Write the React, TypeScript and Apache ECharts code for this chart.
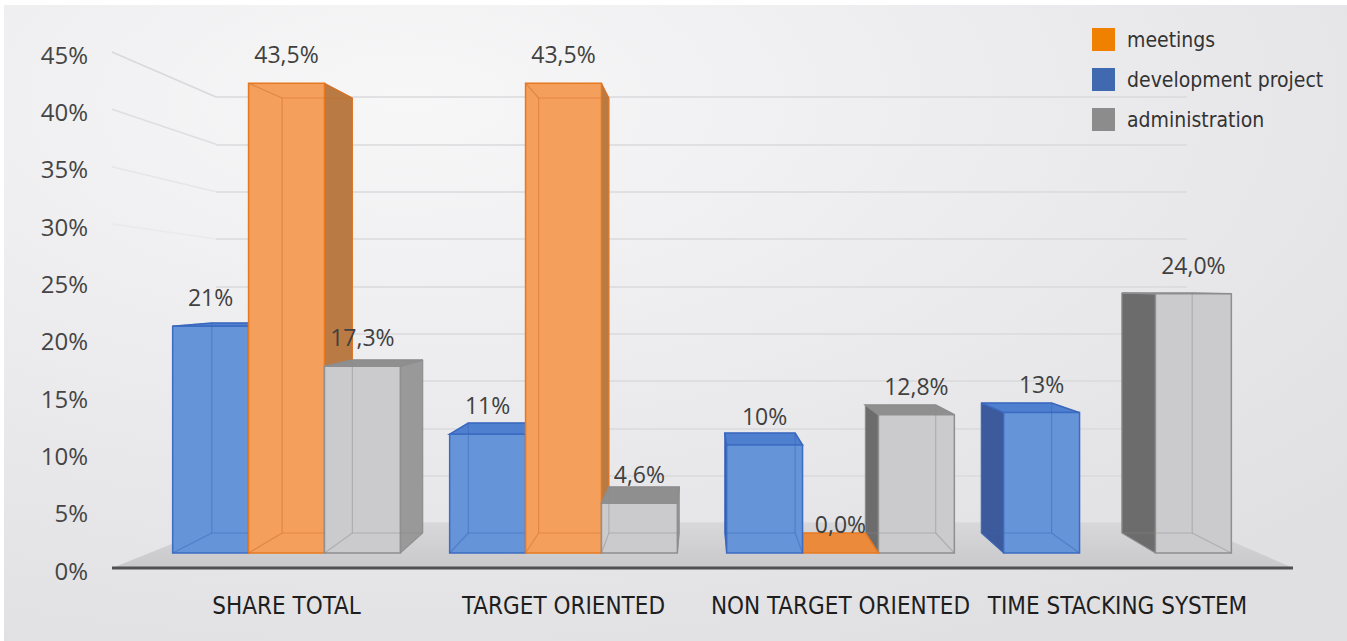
import React, { useEffect, useRef } from "react";
import * as echarts from "echarts";

// ---- data ----
const categories = ["SHARE TOTAL", "TARGET ORIENTED", "NON TARGET ORIENTED", "TIME STACKING SYSTEM"];
const meetings: (number | null)[] = [43.5, 43.5, 0.0, null];
const developmentProject: (number | null)[] = [21, 11, 10, 13];
const administration: (number | null)[] = [17.3, 4.6, 12.8, 24.0];
const legendOrder = ["meetings", "development project", "administration"];
const yMin = 0;
const yMax = 45;
const yStep = 5;

// ---- perspective & style ----
const EYE = 25; // value at eye level (vertical vanishing point)
const DEPTH = 0.926; // back-face scale toward the vanishing point
const BAR_FRACTION = 0.274;
const NARROW = "DejaVu Sans Condensed, Liberation Sans Narrow, sans-serif";

type Look = {
  legend: string;
  front: string;
  border: string;
  sideRight: string;
  sideLeft: string;
  top: string;
  inner: string;
};

const LOOKS: Record<string, Look> = {
  development: {
    legend: "#4169b0",
    front: "#6594d9",
    border: "#3c6cc2",
    sideRight: "#4a6fb5",
    sideLeft: "#3d5b9c",
    top: "#4f7fcf",
    inner: "rgba(60,100,180,0.45)",
  },
  meetings: {
    legend: "#f08000",
    front: "#f4a05c",
    border: "#e8781f",
    sideRight: "#b97a44",
    sideLeft: "#b06c30",
    top: "#ec8a3c",
    inner: "rgba(210,110,40,0.5)",
  },
  administration: {
    legend: "#8c8c8c",
    front: "#cbcbce",
    border: "#8f8f8f",
    sideRight: "#999999",
    sideLeft: "#6c6c6c",
    top: "#8f8f8f",
    inner: "rgba(140,140,145,0.45)",
  },
};

const fmtInt = (v: number) => `${v}%`;
const fmtDec = (v: number) => `${v.toFixed(1).replace(".", ",")}%`;

function toData(values: (number | null)[]) {
  const out: number[][] = [];
  values.forEach((v, i) => {
    if (v !== null && v !== undefined) out.push([i, v]);
  });
  return out;
}

function makeRender(look: Look, pos: number, fmt: (v: number) => string) {
  return (params: any, api: any) => {
    const cat = api.value(0);
    const v = api.value(1);
    const base = api.coord([cat, 0]);
    const topP = api.coord([cat, v]);
    const band = api.size([1, 0])[0];
    const bw = band * BAR_FRACTION;
    const cx = base[0];
    const x1 = cx + pos * bw - bw / 2;
    const x2 = x1 + bw;
    const yb = base[1];
    const yt = topP[1];
    const a = api.coord([0, 0])[0];
    const b = api.coord([categories.length - 1, 0])[0];
    const vpx = (a + b) / 2;
    const vpy = api.coord([0, EYE])[1];
    const bx = (x: number) => vpx + DEPTH * (x - vpx);
    const by = (y: number) => vpy + DEPTH * (y - vpy);
    const mid = (x1 + x2) / 2;
    const leftOfVp = mid < vpx;
    const z0 = cat * 20 + (leftOfVp ? pos + 1 : 1 - pos) * 5;

    const children: any[] = [];
    if (x2 < vpx) {
      children.push({
        type: "polygon",
        z2: z0,
        shape: { points: [[x2, yt], [bx(x2), by(yt)], [bx(x2), by(yb)], [x2, yb]] },
        style: { fill: look.sideRight, stroke: look.border, lineWidth: 1 },
      });
    }
    if (x1 > vpx) {
      children.push({
        type: "polygon",
        z2: z0,
        shape: { points: [[x1, yt], [bx(x1), by(yt)], [bx(x1), by(yb)], [x1, yb]] },
        style: { fill: look.sideLeft, stroke: look.border, lineWidth: 1 },
      });
    }
    if (yt > vpy) {
      children.push({
        type: "polygon",
        z2: z0 + 1,
        shape: { points: [[x1, yt], [x2, yt], [bx(x2), by(yt)], [bx(x1), by(yt)]] },
        style: { fill: look.top, stroke: look.border, lineWidth: 1.5 },
      });
    }
    if (yb - yt > 0.5) {
      children.push({
        type: "rect",
        z2: z0 + 2,
        shape: { x: x1, y: yt, width: x2 - x1, height: yb - yt },
        style: { fill: look.front, stroke: look.border, lineWidth: 1.5 },
      });
      // see-through inner edges of the box
      const inner = { stroke: look.inner, lineWidth: 1.2, fill: "none" };
      children.push({
        type: "polygon",
        z2: z0 + 3,
        shape: { points: [[bx(x1), by(yt)], [bx(x2), by(yt)], [bx(x2), by(yb)], [bx(x1), by(yb)]] },
        style: inner,
      });
      [[x1, yt], [x2, yt], [x1, yb], [x2, yb]].forEach((p) => {
        children.push({
          type: "line",
          z2: z0 + 3,
          shape: { x1: p[0], y1: p[1], x2: bx(p[0]), y2: by(p[1]) },
          style: { stroke: look.inner, lineWidth: 1.2 },
        });
      });
    }
    children.push({
      type: "text",
      z2: 200,
      style: {
        text: fmt(v),
        x: mid,
        y: yt - 29,
        fill: "#404040",
        fontSize: 23,
        fontFamily: "Open Sans",
        align: "center",
        verticalAlign: "middle",
      },
    });
    return { type: "group", children };
  };
}

const SERIES_DEFS = [
  { name: "development project", values: developmentProject, look: LOOKS.development, pos: -1, fmt: fmtInt },
  { name: "meetings", values: meetings, look: LOOKS.meetings, pos: 0, fmt: fmtDec },
  { name: "administration", values: administration, look: LOOKS.administration, pos: 1, fmt: fmtDec },
];

export default function App() {
  const ref = useRef<HTMLDivElement>(null);

  useEffect(() => {
    document.body.style.margin = "0";
    if (!ref.current) return;
    const chart = echarts.init(ref.current, undefined, { renderer: "svg" });

    const option: any = {
      animation: false,
      legend: {
        data: legendOrder,
        orient: "vertical",
        left: 1092,
        top: 28,
        padding: 0,
        itemWidth: 23,
        itemHeight: 23,
        itemGap: 17,
        icon: "rect",
        textStyle: {
          fontSize: 21,
          fontFamily: NARROW,
          color: "#333333",
          padding: [0, 0, 0, 7],
        },
      },
      grid: [
        { left: 96, right: 1250, top: 54, bottom: 71 },
        { left: 148, right: 91, top: 67, bottom: 88 },
        { left: 216, right: 160, top: 97, bottom: 118 },
      ],
      xAxis: [
        { gridIndex: 0, type: "value", show: false },
        {
          gridIndex: 1,
          type: "category",
          data: categories,
          axisLine: { show: false },
          axisTick: { show: false },
          axisLabel: {
            margin: 41,
            fontSize: 24,
            fontFamily: NARROW,
            color: "#1e1e1e",
            interval: 0,
          },
        },
        { gridIndex: 2, type: "value", show: false },
      ],
      yAxis: [
        {
          gridIndex: 0,
          type: "value",
          min: yMin,
          max: yMax,
          interval: yStep,
          axisLine: { show: false },
          axisTick: { show: false },
          splitLine: { show: false },
          axisLabel: {
            formatter: "{value}%",
            fontSize: 24,
            fontFamily: "Open Sans",
            color: "#454545",
            margin: 8,
          },
        },
        { gridIndex: 1, type: "value", min: yMin, max: yMax, show: false },
        {
          gridIndex: 2,
          type: "value",
          min: yMin,
          max: yMax,
          interval: yStep,
          axisLine: { show: false },
          axisTick: { show: false },
          axisLabel: { show: false },
          splitLine: { lineStyle: { color: "#dadadc", width: 1.5 } },
        },
      ],
      series: SERIES_DEFS.map((d) => ({
        name: d.name,
        type: "custom",
        xAxisIndex: 1,
        yAxisIndex: 1,
        clip: false,
        itemStyle: { color: d.look.legend },
        encode: { x: 0, y: 1 },
        data: toData(d.values),
        renderItem: makeRender(d.look, d.pos, d.fmt),
      })),
    };
    chart.setOption(option);

    const yl = (v: number) => chart.convertToPixel({ yAxisIndex: 0 }, v) as number;
    const yw = (v: number) => chart.convertToPixel({ yAxisIndex: 2 }, v) as number;
    const frontY = yl(0) - 2;
    const backY = yw(0);
    const slanted = [45, 40, 35, 30].map((v, i) => ({
      type: "line",
      z: 0,
      silent: true,
      shape: { x1: 112, y1: yl(v) - 2, x2: 216, y2: yw(v) },
      style: { stroke: "#d6d6d8", lineWidth: 1.5, opacity: [0.9, 0.7, 0.45, 0.25][i] },
    }));

    chart.setOption({
      graphic: [
        {
          type: "rect",
          z: -10,
          silent: true,
          shape: { x: 4, y: 5, width: 1343, height: 636 },
          style: {
            fill: {
              type: "radial",
              x: 0.3,
              y: 0.15,
              r: 0.95,
              colorStops: [
                { offset: 0, color: "#f7f7f8" },
                { offset: 1, color: "#e0e0e3" },
              ],
            },
          },
        },
        ...slanted,
        {
          type: "polygon",
          z: 1,
          silent: true,
          shape: { points: [[112, frontY], [224, backY], [1190, backY], [1293, frontY]] },
          style: {
            fill: {
              type: "linear",
              x: 0,
              y: 0,
              x2: 0,
              y2: 1,
              colorStops: [
                { offset: 0, color: "#d8d8da" },
                { offset: 1, color: "#c9c9cb" },
              ],
            },
          },
        },
        {
          type: "line",
          z: 1,
          silent: true,
          shape: { x1: 112, y1: frontY, x2: 1293, y2: frontY },
          style: { stroke: "#505050", lineWidth: 3 },
        },
      ],
    });

    return () => chart.dispose();
  }, []);

  return <div ref={ref} style={{ width: 1347, height: 641, background: "#ffffff" }} />;
}
